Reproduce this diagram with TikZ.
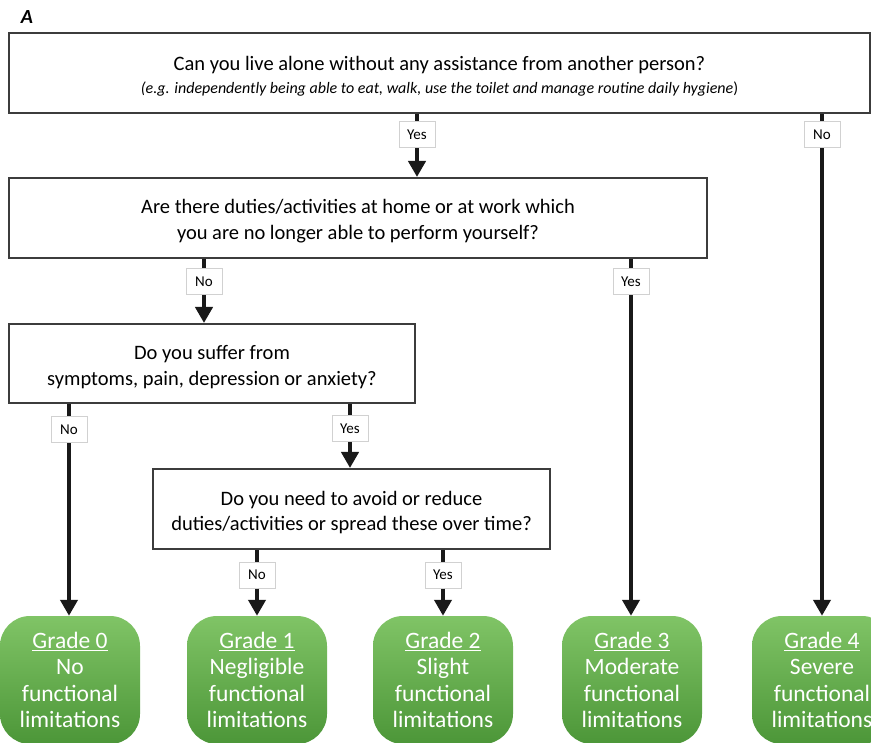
\documentclass[tikz,border=0pt]{standalone}
\usepackage{fontspec}
\setmainfont{Carlito}
\usetikzlibrary{arrows.meta, positioning, shapes}
\definecolor{verdeclaro}{RGB}{128,196,102}
\definecolor{verdeoscuro}{RGB}{76,150,56}
\definecolor{bordegris}{RGB}{60,60,60}
\newcommand{\alto}{\rule{0pt}{21pt}}
\tikzset{
  pregunta/.style={draw=bordegris, line width=2pt, fill=white, align=center,
    font=\fontsize{20.5}{25.5}\selectfont, inner sep=0pt},
  respuesta/.style={draw=black!18, line width=1pt, fill=white, inner sep=0pt,
    minimum width=36pt, minimum height=26pt, font=\fontsize{15}{17}\selectfont},
  grado/.style={rounded corners=30pt, top color=verdeclaro, bottom color=verdeoscuro,
    text=white, align=center, minimum width=140pt, minimum height=128pt,
    inner sep=0pt, font=\fontsize{23.5}{26.5}\selectfont},
  tramo/.style={line width=4.5pt, draw=black!90},
  flecha/.style={tramo, -{Triangle[width=17pt,length=16pt]}},
}

\begin{document}
\begin{tikzpicture}[x=1pt, y=-1pt]
  \useasboundingbox (0,0) rectangle (871,743);
  \clip (0,0) rectangle (871,743);
  \node[font=\fontsize{20}{22}\selectfont\bfseries\itshape] (etiqueta) at (27,17) {A};
  % preguntas
  \node[pregunta, minimum width=861pt, minimum height=80pt] (p1) at (439.5,73)
    {\alto Can you live alone without any assistance from another person?\\[-3pt]
     {\fontsize{16}{18}\selectfont\itshape (e.g. independently being able to eat, walk, use the toilet and manage routine daily hygiene\/\upshape)}};
  \node[pregunta, minimum width=698pt, minimum height=80pt] (p2) at (358,218)
    {\alto Are there duties/activities at home or at work which\\you are no longer able to perform yourself?};
  \node[pregunta, minimum width=406pt, minimum height=79pt] (p3) at (212,363.5)
    {\alto Do you suffer from\\symptoms, pain, depression or anxiety?};
  \node[pregunta, minimum width=397pt, minimum height=80pt] (p4) at (351.5,509)
    {\alto Do you need to avoid or reduce\\duties/activities or spread these over time?};
  % grados
  \foreach \x/\t [count=\i from 0] in {70/No, 257/Negligible, 443/Slight, 632/Moderate, 822/Severe}
    \node[grado] (g\i) at (\x,680) {\underline{Grade \i}\\\t\\functional\\limitations};
  % respuestas
  \node[respuesta] (r1) at (417,135) {Yes};
  \node[respuesta] (r2) at (822,135) {No};
  \node[respuesta] (r3) at (204,282) {No};
  \node[respuesta] (r4) at (631,282) {Yes};
  \node[respuesta] (r5) at (69,430) {No};
  \node[respuesta] (r6) at (350,429) {Yes};
  \node[respuesta] (r7) at (257,575) {No};
  \node[respuesta] (r8) at (443,575) {Yes};
  % flechas
  \draw[tramo] (p1.south -| r1) -- (r1.north);
  \draw[flecha] (r1.south) -- (p2.north -| r1);
  \draw[tramo] (p1.south -| r2) -- (r2.north);
  \draw[flecha] (r2.south) -- (g4.north -| r2);
  \draw[tramo] (p2.south -| r3) -- (r3.north);
  \draw[flecha] (r3.south) -- (p3.north -| r3);
  \draw[tramo] (p2.south -| r4) -- (r4.north);
  \draw[flecha] (r4.south) -- (g3.north -| r4);
  \draw[tramo] (p3.south -| r5) -- (r5.north);
  \draw[flecha] (r5.south) -- (g0.north -| r5);
  \draw[tramo] (p3.south -| r6) -- (r6.north);
  \draw[flecha] (r6.south) -- (p4.north -| r6);
  \draw[tramo] (p4.south -| r7) -- (r7.north);
  \draw[flecha] (r7.south) -- (g1.north -| r7);
  \draw[tramo] (p4.south -| r8) -- (r8.north);
  \draw[flecha] (r8.south) -- (g2.north -| r8);
\end{tikzpicture}
\end{document}
